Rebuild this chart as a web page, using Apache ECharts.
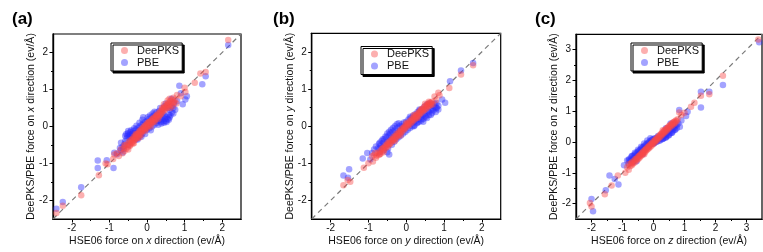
<!DOCTYPE html>
<html><head><meta charset="utf-8">
<script src="https://cdn.jsdelivr.net/npm/echarts@6/dist/echarts.min.js"></script>
<style>html,body{margin:0;padding:0;background:#fff}#c{width:763px;height:252px}</style>
</head><body><div id="c"></div>
<script>
// ---------------- data ----------------
const panelLabels = ['(a)', '(b)', '(c)'];
const dirs = ['x', 'y', 'z'];
const seriesNames = ['DeePKS', 'PBE'];
const axisRangeA = [-2.5, 2.5];
const axisRangeB = [-2.5, 2.5];
const axisRangeC = [-2.5, 3.5];
const majorTicksAB = [-2, -1, 0, 1, 2];
const minorTicksAB = [-1.5, -0.5, 0.5, 1.5];
const majorTicksC = [-2, -1, 0, 1, 2, 3];
const minorTicksC = [-1.5, -0.5, 0.5, 1.5, 2.5];

const aDeep = [[2.16,2.34],[1.56,1.47],[1.42,1.43],[1.27,1.18],[1.0,1.05],[1.02,0.93],[0.9,0.82],[-2.41,-2.34],[-2.24,-2.14],[-1.75,-1.86],[-1.28,-1.32],[-1.1,-1.0],[-1.05,-1.02],[-0.9,-0.88],[-0.87,-0.76],[-0.8,-0.72],[-0.75,-0.8],[-0.7,-0.62],
[-0.62,-0.58],[-0.6,-0.66],[-0.58,-0.52],[-0.55,-0.6],[-0.52,-0.48],[-0.5,-0.55],[-0.48,-0.42],[-0.46,-0.5],[-0.45,-0.38],[-0.42,-0.45],[-0.4,-0.36],[-0.4,-0.42],[-0.38,-0.33],[-0.36,-0.4],[-0.35,-0.28],[-0.33,-0.36],[-0.32,-0.3],[-0.3,-0.25],[-0.3,-0.34],[-0.28,-0.22],[-0.27,-0.3],[-0.25,-0.2],[-0.24,-0.27],[-0.22,-0.16],[-0.2,-0.22],[-0.2,-0.12],[-0.18,-0.18],[-0.17,-0.1],[-0.15,-0.15],[-0.14,-0.06],[-0.12,-0.12],[-0.1,-0.04],[-0.1,-0.1],[-0.08,0.0],[-0.07,-0.06],[-0.05,0.02],[-0.04,-0.03],[-0.02,0.05],[0.0,0.0],[0.0,0.08],[0.02,0.04],[0.04,0.1],[0.05,0.02],[0.07,0.12],[0.08,0.06],[0.1,0.15],[0.12,0.09],[0.13,0.18],[0.15,0.12],[0.17,0.22],[0.18,0.15],[0.2,0.25],[0.22,0.18],[0.24,0.28],[0.25,0.22],[0.27,0.32],[0.3,0.26],[0.31,0.36],[0.33,0.3],[0.35,0.4],[0.37,0.34],[0.39,0.44],[0.4,0.38],[0.42,0.48],[0.44,0.42],[0.46,0.52],[0.48,0.45],[0.5,0.56],[0.52,0.5],[0.54,0.6],[0.56,0.53],[0.58,0.64],[0.6,0.57],[0.62,0.68],[0.64,0.6],[0.66,0.72],[0.68,0.55],[0.7,0.78],[0.72,0.66],[0.75,0.72],[0.78,0.62],[0.8,0.85],[0.55,0.7],[0.45,0.6],[-0.2,-0.3],[-0.5,-0.62],[-0.35,-0.45],[0.1,0.0],[0.3,0.2],[-0.05,-0.12],
[-0.65,-0.72],[-0.6,-0.5],[-0.45,-0.52],[-0.38,-0.46],[-0.25,-0.32],[-0.15,-0.22],[-0.05,-0.08],[0.05,0.12],[0.15,0.2],[0.25,0.3],[0.35,0.32],[0.45,0.48],[0.55,0.58],[0.62,0.5],[0.7,0.65],[0.6,0.75],[0.4,0.5],[0.2,0.12],[0.0,-0.05],[-0.3,-0.2]];

const aPbe = [[2.16,2.2],[1.56,1.36],[1.47,1.14],[0.86,1.1],[1.06,0.82],[1.02,0.73],[0.9,0.9],[0.95,0.6],[-2.41,-2.22],[-2.24,-2.04],[-1.75,-1.64],[-1.31,-0.92],[-1.31,-1.12],[-1.07,-0.91],[-0.89,-1.12],[-0.87,-0.71],[-0.69,-0.44],[-0.72,-0.58],[-0.8,-0.75],[-0.65,-0.7],
[-0.55,-0.2],[-0.52,-0.25],[-0.5,-0.18],[-0.48,-0.28],[-0.46,-0.22],[-0.44,-0.15],[-0.42,-0.3],[-0.4,-0.2],[-0.38,-0.25],[-0.36,-0.12],[-0.35,-0.3],[-0.33,-0.18],[-0.3,-0.08],[-0.3,-0.35],[-0.28,-0.22],[-0.25,-0.05],[-0.24,-0.3],[-0.22,-0.12],[-0.2,0.0],[-0.18,-0.25],[-0.16,-0.08],[-0.14,0.05],[-0.12,-0.18],[-0.1,0.08],[-0.08,-0.1],[-0.05,0.12],[-0.04,-0.05],[0.0,0.15],[0.0,-0.08],[0.03,0.05],[0.05,0.2],[0.06,-0.05],[0.1,0.1],[0.12,0.25],[0.14,0.0],[0.16,0.18],[0.18,0.3],[0.2,0.05],[0.22,0.22],[0.25,0.38],[0.26,0.1],[0.28,0.28],[0.3,0.15],[0.32,0.42],[0.35,0.2],[0.37,0.12],[0.4,0.18],[0.42,0.25],[0.44,0.14],[0.46,0.3],[0.48,0.2],[0.5,0.15],[0.52,0.26],[0.55,0.2],[0.58,0.32],[0.6,0.24],[0.46,0.55],[0.5,0.62],[0.55,0.5],[0.6,0.45],[0.65,0.55],[0.7,0.5],[0.72,0.62],[0.75,0.45],[0.8,0.68],[-0.6,-0.48],[-0.62,-0.6],[-0.58,-0.4],[-0.5,-0.5],[-0.45,-0.4],[-0.25,-0.35],[-0.15,-0.28],[0.65,0.75],[-0.1,0.25],[0.15,0.35],
[-0.58,-0.25],[-0.54,-0.32],[-0.5,-0.12],[-0.45,-0.28],[-0.42,-0.1],[-0.38,-0.18],[-0.34,-0.05],[-0.28,0.02],[-0.2,0.1],[-0.12,0.18],[0.02,0.25],[0.08,0.3],[0.2,0.4],[0.3,0.05],[0.38,0.08],[0.45,0.1],[0.52,0.12],[0.58,0.18],[0.62,0.3],[0.66,0.38],[0.7,0.35],[0.35,0.5],[0.25,0.15],[-0.65,-0.55],[-0.7,-0.65],[0.1,-0.1],[-0.05,-0.2],[0.42,0.35]];

const bDeep = [[1.77,1.64],[1.45,1.39],[1.14,1.03],[0.88,0.83],[0.85,0.9],[0.75,0.8],[0.78,0.7],[-1.66,-1.59],[-1.48,-1.5],[-1.55,-1.45],[-1.12,-1.12],[-1.0,-1.0],[-0.9,-0.81],[-0.88,-0.95],[-0.8,-0.85],[-0.82,-0.72],
[-0.78,-0.8],[-0.75,-0.72],[-0.72,-0.78],[-0.7,-0.68],[-0.68,-0.74],[-0.65,-0.62],[-0.63,-0.68],[-0.6,-0.58],[-0.58,-0.64],[-0.55,-0.52],[-0.53,-0.58],[-0.5,-0.47],[-0.48,-0.54],[-0.46,-0.43],[-0.44,-0.49],[-0.42,-0.39],[-0.4,-0.45],[-0.38,-0.35],[-0.36,-0.4],[-0.34,-0.3],[-0.32,-0.36],[-0.3,-0.27],[-0.28,-0.33],[-0.26,-0.22],[-0.24,-0.28],[-0.22,-0.19],[-0.2,-0.24],[-0.18,-0.14],[-0.16,-0.2],[-0.14,-0.1],[-0.12,-0.16],[-0.1,-0.06],[-0.08,-0.12],[-0.06,-0.03],[-0.04,-0.08],[-0.02,0.02],[0.0,-0.03],[0.02,0.06],[0.04,0.01],[0.06,0.1],[0.08,0.04],[0.1,0.14],[0.12,0.08],[0.14,0.18],[0.16,0.12],[0.18,0.22],[0.2,0.16],[0.22,0.26],[0.24,0.2],[0.26,0.3],[0.28,0.24],[0.3,0.34],[0.32,0.28],[0.34,0.38],[0.36,0.32],[0.38,0.42],[0.4,0.36],[0.42,0.46],[0.44,0.4],[0.46,0.5],[0.48,0.43],[0.5,0.54],[0.52,0.47],[0.54,0.57],[0.56,0.5],[0.58,0.6],[0.6,0.54],[0.62,0.63],[0.64,0.56],[0.66,0.6],[0.68,0.66],[0.7,0.58],[-0.85,-0.78],[-0.3,-0.4],[0.0,0.08],[0.3,0.22],[0.5,0.6],[-0.6,-0.7],[0.2,0.3],[-0.15,-0.25],
[-0.7,-0.75],[-0.55,-0.56],[-0.45,-0.48],[-0.35,-0.36],[-0.25,-0.26],[-0.15,-0.15],[-0.05,-0.05],[0.05,0.05],[0.15,0.16],[0.25,0.25],[0.35,0.36],[0.45,0.45],[0.55,0.55],[0.65,0.63],[0.6,0.66],[0.4,0.45],[-0.62,-0.6],[-0.5,-0.5]];

const bPbe = [[1.77,1.7],[1.45,1.5],[1.16,1.21],[1.03,0.63],[0.95,0.72],[0.85,0.55],[0.8,0.5],[-1.66,-1.33],[-1.51,-1.16],[-1.54,-1.39],[-1.15,-0.87],[-1.03,-0.72],[-0.85,-0.63],[-0.45,-0.76],[-0.5,-0.7],[-0.95,-0.9],[-0.7,-0.45],
[-0.8,-0.55],[-0.75,-0.6],[-0.72,-0.48],[-0.7,-0.7],[-0.68,-0.52],[-0.65,-0.4],[-0.62,-0.58],[-0.6,-0.45],[-0.58,-0.35],[-0.55,-0.5],[-0.52,-0.3],[-0.5,-0.42],[-0.48,-0.6],[-0.46,-0.25],[-0.44,-0.38],[-0.42,-0.2],[-0.4,-0.32],[-0.38,-0.5],[-0.36,-0.15],[-0.34,-0.28],[-0.32,-0.42],[-0.3,-0.12],[-0.28,-0.22],[-0.26,-0.35],[-0.24,-0.05],[-0.22,-0.18],[-0.2,-0.3],[-0.18,0.0],[-0.16,-0.12],[-0.14,-0.25],[-0.12,0.05],[-0.1,-0.08],[-0.08,-0.2],[-0.06,0.1],[-0.04,-0.02],[-0.02,-0.15],[0.0,0.12],[0.02,0.02],[0.04,-0.1],[0.06,0.18],[0.08,0.05],[0.1,-0.05],[0.12,0.22],[0.14,0.08],[0.16,0.0],[0.18,0.28],[0.2,0.12],[0.22,0.02],[0.24,0.32],[0.26,0.15],[0.28,0.08],[0.3,0.38],[0.32,0.2],[0.34,0.12],[0.36,0.42],[0.38,0.25],[0.4,0.15],[0.42,0.45],[0.44,0.3],[0.46,0.2],[0.48,0.52],[0.5,0.35],[0.52,0.25],[0.55,0.58],[0.58,0.4],[0.6,0.3],[0.62,0.6],[0.65,0.45],[0.68,0.35],[0.7,0.55],[0.72,0.42],[0.75,0.5],[0.78,0.38],[0.8,0.48],[0.85,0.45],[-0.9,-0.72],
[-0.62,-0.35],[-0.55,-0.28],[-0.5,-0.2],[-0.45,-0.15],[-0.4,-0.1],[-0.35,-0.05],[-0.3,0.0],[-0.25,0.05],[-0.2,0.08],[0.2,0.0],[0.3,0.1],[0.4,0.2],[0.5,0.28],[0.6,0.38],[0.7,0.45],[0.65,0.3],[0.55,0.22],[0.45,0.12],[0.75,0.6],[0.8,0.62],[-0.7,-0.6],[-0.6,-0.65],[0.1,0.25],[-0.1,0.0],[0.35,0.45]];

const cDeep = [[3.38,3.33],[2.24,2.15],[1.8,1.55],[1.53,1.5],[1.32,1.28],[1.21,1.15],[0.83,0.96],[1.0,0.95],[0.9,0.88],[-2.05,-1.98],[-2.0,-2.09],[-1.57,-1.7],[-1.35,-1.41],[-1.15,-1.09],[-0.91,-1.0],[-0.85,-0.82],[-0.8,-0.9],
[-0.75,-0.78],[-0.72,-0.68],[-0.7,-0.75],[-0.68,-0.64],[-0.65,-0.7],[-0.62,-0.6],[-0.6,-0.66],[-0.58,-0.55],[-0.55,-0.6],[-0.52,-0.5],[-0.5,-0.56],[-0.48,-0.46],[-0.46,-0.52],[-0.44,-0.42],[-0.42,-0.47],[-0.4,-0.38],[-0.38,-0.43],[-0.36,-0.34],[-0.34,-0.39],[-0.32,-0.3],[-0.3,-0.35],[-0.28,-0.26],[-0.26,-0.31],[-0.24,-0.22],[-0.22,-0.27],[-0.2,-0.18],[-0.18,-0.23],[-0.16,-0.14],[-0.14,-0.19],[-0.12,-0.1],[-0.1,-0.15],[-0.08,-0.06],[-0.06,-0.11],[-0.04,-0.02],[-0.02,-0.07],[0.0,0.02],[0.02,-0.03],[0.04,0.06],[0.06,0.01],[0.08,0.1],[0.1,0.05],[0.12,0.14],[0.14,0.09],[0.16,0.18],[0.18,0.13],[0.2,0.22],[0.22,0.17],[0.24,0.26],[0.26,0.21],[0.28,0.3],[0.3,0.25],[0.32,0.34],[0.34,0.29],[0.36,0.38],[0.38,0.33],[0.4,0.42],[0.42,0.37],[0.44,0.46],[0.46,0.41],[0.48,0.5],[0.5,0.45],[0.52,0.54],[0.55,0.5],[0.58,0.58],[0.6,0.54],[0.62,0.62],[0.65,0.58],[0.68,0.66],[0.7,0.62],[0.72,0.7],[0.75,0.68],[0.78,0.74],[-0.8,-0.72],[0.3,0.38],[-0.3,-0.4],
[-0.7,-0.7],[-0.55,-0.55],[-0.45,-0.45],[-0.35,-0.35],[-0.25,-0.25],[-0.15,-0.15],[-0.05,-0.05],[0.05,0.05],[0.15,0.15],[0.25,0.25],[0.35,0.35],[0.45,0.45],[0.55,0.55],[0.65,0.65],[0.6,0.6]];

const cPbe = [[3.41,3.24],[2.24,1.85],[1.53,1.63],[1.8,1.63],[1.53,1.12],[0.83,1.04],[1.1,0.98],[1.05,0.85],[0.9,0.7],[-2.0,-1.85],[-1.95,-2.25],[-1.54,-1.57],[-1.42,-1.09],[-1.13,-1.38],[-1.25,-1.2],[-0.8,-0.59],[-0.95,-0.75],
[-0.85,-0.6],[-0.8,-0.7],[-0.78,-0.55],[-0.75,-0.62],[-0.72,-0.5],[-0.7,-0.58],[-0.68,-0.45],[-0.65,-0.55],[-0.62,-0.42],[-0.6,-0.5],[-0.58,-0.38],[-0.55,-0.45],[-0.52,-0.32],[-0.5,-0.42],[-0.48,-0.3],[-0.46,-0.38],[-0.44,-0.26],[-0.42,-0.35],[-0.4,-0.22],[-0.38,-0.3],[-0.36,-0.18],[-0.34,-0.26],[-0.32,-0.15],[-0.3,-0.22],[-0.28,-0.12],[-0.26,-0.2],[-0.24,-0.08],[-0.22,-0.16],[-0.2,-0.05],[-0.18,-0.14],[-0.16,-0.02],[-0.14,-0.1],[-0.12,0.02],[-0.1,-0.06],[-0.08,0.05],[-0.06,-0.04],[-0.04,0.08],[-0.02,0.0],[0.0,0.1],[0.02,-0.04],[0.05,0.12],[0.08,0.0],[0.1,0.14],[0.12,0.02],[0.15,0.1],[0.18,0.04],[0.2,0.16],[0.22,0.06],[0.25,0.14],[0.28,0.1],[0.3,0.2],[0.32,0.12],[0.35,0.22],[0.38,0.15],[0.4,0.25],[0.42,0.18],[0.45,0.3],[0.48,0.22],[0.5,0.35],[0.52,0.28],[0.55,0.4],[0.58,0.3],[0.6,0.45],[0.62,0.35],[0.65,0.5],[0.68,0.4],[0.7,0.55],[0.75,0.45],[0.8,0.6],[0.85,0.5],[0.55,0.6],[0.4,0.45],[-0.55,-0.62],[-0.35,-0.4],
[-0.7,-0.45],[-0.6,-0.35],[-0.5,-0.25],[-0.4,-0.15],[-0.3,-0.05],[-0.2,0.05],[-0.1,0.12],[0.3,0.1],[0.4,0.15],[0.5,0.22],[0.6,0.3],[0.7,0.4],[0.75,0.55],[0.65,0.45],[-0.65,-0.65],[0.15,0.2],[0.0,-0.05]];

// ---------------- layout ----------------
const FONT = 'Liberation Sans, Arial, sans-serif';
const grids = [
  {left: 53, top: 34, width: 188, height: 187},
  {left: 311.7, top: 33.3, width: 189, height: 188.4},
  {left: 576, top: 34.3, width: 186, height: 185.7}
];
const legendPos = [{left: 111, top: 43}, {left: 361, top: 46.5}, {left: 631, top: 43}];
const titlePos = [{left: 12, top: 11}, {left: 273, top: 11}, {left: 535, top: 11}];
const ranges = [axisRangeA, axisRangeB, axisRangeC];
const majors = [majorTicksAB, majorTicksAB, majorTicksC];
const minors = [minorTicksAB, minorTicksAB, minorTicksC];
const deep = [aDeep, bDeep, cDeep];
const pbe = [aPbe, bPbe, cPbe];

const RED = 'rgba(248,72,72,0.55)';
const BLUE = 'rgba(45,45,255,0.55)';

const option = {
  animation: false,
  backgroundColor: '#fff',
  title: [], grid: [], xAxis: [], yAxis: [], legend: [], series: []
};

const nameStyle = {
  fontSize: 10.5, fontFamily: FONT, color: '#111',
  rich: {i: {fontStyle: 'italic', fontSize: 10.5, fontFamily: FONT, color: '#111'}}
};

for (let p = 0; p < 3; p++) {
  const [mn, mx] = ranges[p];
  option.title.push({text: panelLabels[p], left: titlePos[p].left, top: titlePos[p].top, padding: 0,
    textStyle: {fontSize: 17, fontWeight: 'bold', fontFamily: FONT, color: '#000'}});
  option.grid.push(Object.assign({show: true, borderColor: '#000', borderWidth: 1.2, backgroundColor: 'transparent'}, grids[p]));
  const base = () => ({
    type: 'value', gridIndex: p, min: mn, max: mx,
    splitLine: {show: false},
    axisLine: {show: true, onZero: false, lineStyle: {color: '#000', width: 1.2}}
  });
  option.xAxis.push(Object.assign(base(), {
    position: 'bottom',
    axisTick: {show: true, customValues: minors[p], length: 2, lineStyle: {color: '#000', width: 1}},
    axisLabel: {show: false},
    name: 'HSE06 force on {i|' + dirs[p] + '} direction (ev/Å)', nameLocation: 'middle', nameGap: 17,
    nameTextStyle: nameStyle
  }));
  option.xAxis.push(Object.assign(base(), {
    position: 'bottom',
    axisTick: {show: true, customValues: majors[p], length: 3.5, lineStyle: {color: '#000', width: 1}},
    axisLabel: {show: true, customValues: majors[p], fontSize: 10, fontFamily: FONT, color: '#111', margin: 4.5}
  }));
  option.yAxis.push(Object.assign(base(), {
    position: 'left',
    axisTick: {show: true, customValues: minors[p], length: 2, lineStyle: {color: '#000', width: 1}},
    axisLabel: {show: false},
    name: 'DeePKS/PBE force on {i|' + dirs[p] + '} direction (ev/Å)', nameLocation: 'middle', nameGap: 16,
    nameTextStyle: nameStyle
  }));
  option.yAxis.push(Object.assign(base(), {
    position: 'left',
    axisTick: {show: true, customValues: majors[p], length: 3.5, lineStyle: {color: '#000', width: 1}},
    axisLabel: {show: true, customValues: majors[p], fontSize: 10, fontFamily: FONT, color: '#111', margin: 5}
  }));
  option.legend.push({
    orient: 'vertical', left: legendPos[p].left, top: legendPos[p].top,
    data: seriesNames, icon: 'circle', itemWidth: 7, itemHeight: 7, itemGap: 1,
    padding: [2, 3, 3, 10],
    backgroundColor: '#fff', borderColor: '#000', borderWidth: 1,
    shadowColor: '#000', shadowBlur: 0, shadowOffsetX: 2, shadowOffsetY: 2,
    textStyle: {fontSize: 11, fontFamily: FONT, color: '#111', lineHeight: 11, padding: [0, 0, 0, 4]}
  });
  option.series.push({
    type: 'line', xAxisIndex: 2 * p, yAxisIndex: 2 * p, silent: true, z: 1,
    data: [[mn, mn], [mx, mx]], symbol: 'none',
    lineStyle: {color: '#7a7a7a', width: 1.2, type: [5, 4]}
  });
  option.series.push({
    type: 'scatter', name: 'PBE', xAxisIndex: 2 * p, yAxisIndex: 2 * p, z: 2,
    data: pbe[p], symbolSize: 6.5, itemStyle: {color: BLUE}
  });
  option.series.push({
    type: 'scatter', name: 'DeePKS', xAxisIndex: 2 * p, yAxisIndex: 2 * p, z: 3,
    data: deep[p], symbolSize: 6.5, itemStyle: {color: RED}
  });
}

const chart = echarts.init(document.getElementById('c'), null, {renderer: 'canvas'});
chart.setOption(option);
</script></body></html>
